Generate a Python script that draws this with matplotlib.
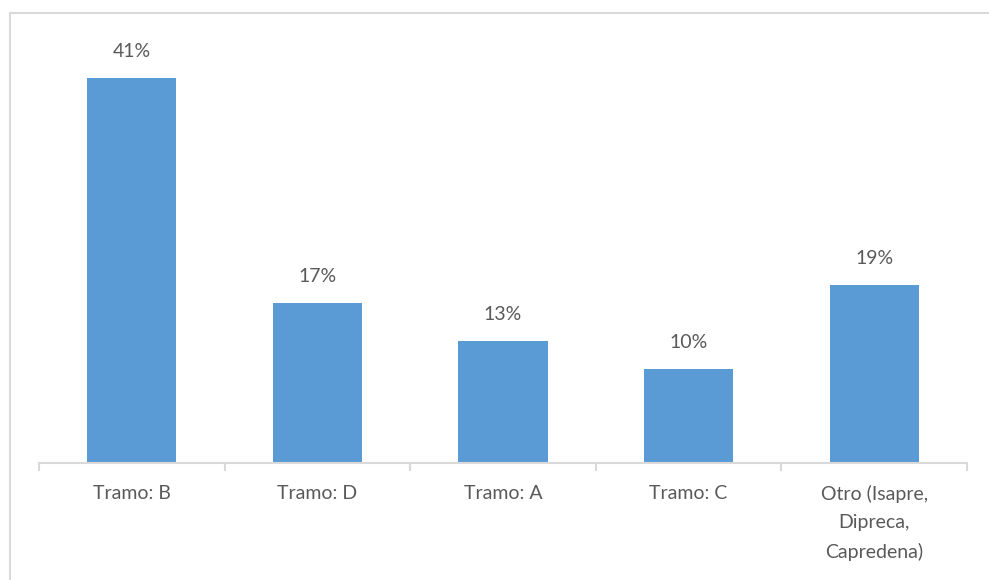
import matplotlib.pyplot as plt
from matplotlib.patches import Rectangle

# share of respondents by health insurance bracket
categories = ["Tramo: B", "Tramo: D", "Tramo: A", "Tramo: C", "Otro (Isapre,\nDipreca,\nCapredena)"]
values = [41, 17, 13, 10, 19]

bar_color = "#5b9bd5"
text_color = "#595959"
line_color = "#d9d9d9"

plt.rcParams["font.family"] = ["Lato", "DejaVu Sans"]

W, H = 989, 580
fig = plt.figure(figsize=(W / 100, H / 100), dpi=100)

# outer chart frame (runs off the right and bottom edges)
fig.patches.append(Rectangle((10 / W, -0.05), 1.0, 1 - 13 / H + 0.05,
                             transform=fig.transFigure, fill=False,
                             edgecolor=line_color, linewidth=1.5))

ax = fig.add_axes([39 / W, (H - 463) / H, (967 - 39) / W, (463 - 13) / H])
x = range(len(categories))
ax.bar(x, values, width=0.48, color=bar_color)
ax.set_xlim(-0.5, len(categories) - 0.5)
ax.set_ylim(0, 41 * 450 / 385)

for xi, v in zip(x, values):
    ax.annotate(f"{v}%", (xi, v), xytext=(0, 13), textcoords="offset points",
                ha="center", va="bottom", fontsize=14, color=text_color)

for s in ["left", "right", "top"]:
    ax.spines[s].set_visible(False)
ax.spines["bottom"].set_color(line_color)
ax.spines["bottom"].set_linewidth(1.5)
ax.set_yticks([])

# category labels between the boundary ticks
ax.set_xticks([i - 0.5 for i in range(len(categories) + 1)], minor=False)
ax.set_xticklabels([])
ax.tick_params(axis="x", length=6, width=1.5, color=line_color)
for xi, c in zip(x, categories):
    ax.text(xi, -0.048, c, transform=ax.get_xaxis_transform(), ha="center",
            va="top", fontsize=14, color=text_color, linespacing=1.8)

fig.savefig("out.png", dpi=100)
